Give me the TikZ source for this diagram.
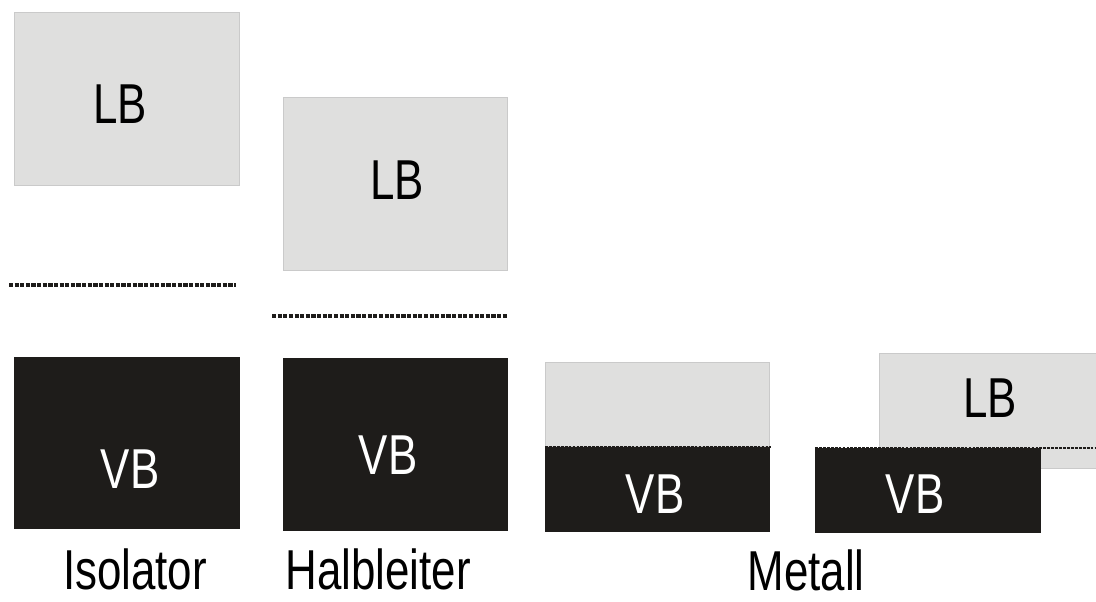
\documentclass[tikz,border=0pt]{standalone}
\usepackage{fontspec}
\setmainfont{Liberation Sans}[FakeStretch=0.78]
\usetikzlibrary{positioning}

\definecolor{bandgray}{HTML}{DFDFDE}
\definecolor{bandedge}{HTML}{CACACA}
\definecolor{bandblack}{HTML}{1E1C1A}

\tikzset{
	lbbox/.style={fill=bandgray,draw=bandedge,line width=0.6pt},
	vbbox/.style={fill=bandblack,draw=bandblack},
	fermi/.style={line width=2.2pt,dash pattern=on 3pt off 1pt,bandblack},
	fermithin/.style={line width=1.4pt,dash pattern=on 2pt off 0.8pt,bandblack},
	bandtext/.style={font=\fontsize{40}{40}\selectfont,inner sep=0pt},
	nametext/.style={font=\fontsize{40}{40}\selectfont,inner sep=0pt,anchor=base}
}

\begin{document}
\begin{tikzpicture}[x=0.025cm,y=-0.025cm]
	\useasboundingbox (0,0) rectangle (1096,601);

	%Isolator
	\filldraw[lbbox] (14,12) rectangle (239,185);
	\filldraw[vbbox] (14,357) rectangle (239,528);
	\draw[fermi] (9,285)--(236,285);
	\node[bandtext] (isolb) at (120,104) {LB};
	\node[bandtext,white] (isovb) at (130,469) {VB};

	%Halbleiter
	\filldraw[lbbox] (283,97) rectangle (507,270);
	\filldraw[vbbox] (283,358) rectangle (507,530);
	\draw[fermi] (272,316)--(507,316);
	\node[bandtext] (hllb) at (397,180) {LB};
	\node[bandtext,white] (hlvb) at (388,455) {VB};

	%Metall, left
	\filldraw[lbbox] (545,362) rectangle (769,446);
	\filldraw[vbbox] (545,447) rectangle (769,531);
	\draw[fermithin] (545,447)--(771,447);
	\node[bandtext,white] (m1vb) at (655,494) {VB};

	%Metall, right
	\filldraw[lbbox] (879,353) rectangle (1100,468);
	\filldraw[vbbox] (815,448) rectangle (1040,532);
	\draw[fermithin] (815,448)--(1096,448);
	\node[bandtext] (m2lb) at (990,398) {LB};
	\node[bandtext,white] (m2vb) at (915,494) {VB};

	%names
	\node[nametext] (isoname) at (135,589) {Isolator};
	\node[nametext] (hlname) at (378,589) {Halbleiter};
	\node[nametext] (mname) at (806,590) {Metall};
\end{tikzpicture}
\end{document}
